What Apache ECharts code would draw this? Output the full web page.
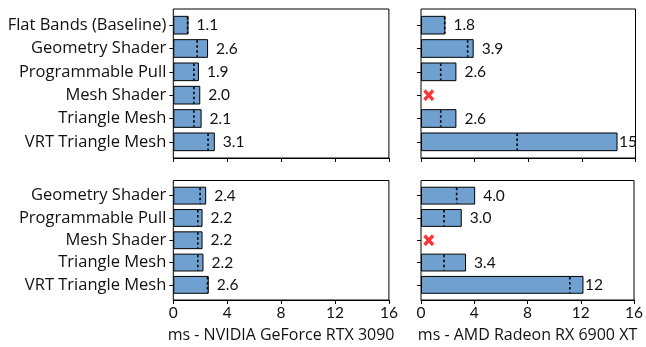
<!DOCTYPE html>
<html>
<head>
<meta charset="utf-8">
<script src="https://cdn.jsdelivr.net/npm/echarts@6/dist/echarts.min.js"></script>
<style>
html,body{margin:0;padding:0;background:#fff;}
#chart{width:646px;height:347px;}
</style>
</head>
<body>
<div id="chart"></div>
<script>
const catsTop = ['Flat Bands (Baseline)', 'Geometry Shader', 'Programmable Pull', 'Mesh Shader', 'Triangle Mesh', 'VRT Triangle Mesh'];
const catsBottom = ['Geometry Shader', 'Programmable Pull', 'Mesh Shader', 'Triangle Mesh', 'VRT Triangle Mesh'];

const nvTop = [1.13, 2.58, 1.9, 2.0, 2.1, 3.08];
const nvTopDot = [1.06, 1.77, 1.53, 1.53, 1.53, 2.58];
const amdTop = [1.82, 3.93, 2.64, null, 2.64, 14.66];
const amdTopDot = [1.77, 3.48, 1.47, null, 1.47, 7.17];

const nvBot = [2.44, 2.17, 2.17, 2.24, 2.63];
const nvBotDot = [1.99, 1.82, 1.82, 1.82, 2.54];
const amdBot = [4.04, 3.04, null, 3.36, 12.12];
const amdBotDot = [2.66, 1.72, null, 1.72, 11.1];

const xTicks = [0, 4, 8, 12, 16];
const xNames = ['ms - NVIDIA GeForce RTX 3090', 'ms - AMD Radeon RX 6900 XT'];

const FONT = 'Open Sans';
const NUMFONT = 'Lato';
const TXT = '#111';
const BAR = '#6fa0cf';

const panels = [
  {cats: catsTop, vals: nvTop, dots: nvTopDot, left: 173.3, width: 215.6, top: 9, height: 149, pad: 4.5, labels: true, bottom: false, name: ''},
  {cats: catsTop, vals: amdTop, dots: amdTopDot, left: 421, width: 214.5, top: 9, height: 149, pad: 4.5, labels: false, bottom: false, name: ''},
  {cats: catsBottom, vals: nvBot, dots: nvBotDot, left: 173.3, width: 215.6, top: 180.5, height: 119.5, pad: 4, labels: true, bottom: true, name: xNames[0]},
  {cats: catsBottom, vals: amdBot, dots: amdBotDot, left: 421, width: 214.5, top: 180.5, height: 119.5, pad: 4, labels: false, bottom: true, name: xNames[1]}
];

const grid = [], xAxis = [], yAxis = [], series = [];
const fmt = v => (v >= 10 ? v.toFixed(0) : v.toFixed(1));
const XPATH = 'path://M0,2.2 L2.2,0 L5,3 L7.8,0 L10,2.2 L7,5 L10,7.8 L7.8,10 L5,7 L2.2,10 L0,7.8 L3,5 Z';

panels.forEach((p, i) => {
  const fi = i * 2, di = i * 2 + 1;
  grid.push({left: p.left, top: p.top, width: p.width, height: p.height, show: true, borderColor: '#000', borderWidth: 1, backgroundColor: 'transparent'});
  grid.push({left: p.left, top: p.top + p.pad, width: p.width, height: p.height - 2 * p.pad, show: false});
  xAxis.push({
    gridIndex: fi, type: 'value', min: xTicks[0], max: xTicks[xTicks.length - 1], interval: 4,
    axisLine: {show: true, lineStyle: {color: '#000', width: 1}},
    axisTick: {show: true, length: 4, lineStyle: {color: '#000', width: 1}},
    axisLabel: {show: p.bottom, margin: 5, color: TXT, fontFamily: NUMFONT, fontSize: 15.5},
    splitLine: {show: false},
    name: p.name, nameLocation: 'middle', nameGap: 27,
    nameTextStyle: {color: TXT, fontFamily: FONT, fontSize: 16}
  });
  xAxis.push({gridIndex: di, type: 'value', min: 0, max: 16, show: false});
  yAxis.push({gridIndex: fi, type: 'value', min: 0, max: 1, show: false});
  yAxis.push({
    gridIndex: di, type: 'category', data: p.cats, inverse: true,
    axisLine: {show: false},
    axisTick: {show: true, alignWithLabel: true, interval: 0, length: 4, lineStyle: {color: '#000', width: 1}},
    axisLabel: {show: p.labels, interval: 0, margin: 7, color: TXT, fontFamily: FONT, fontSize: 16.5},
    splitLine: {show: false}
  });
  series.push({
    type: 'bar', xAxisIndex: di, yAxisIndex: di,
    barCategoryGap: '20%',
    data: p.vals.map(v => v == null ? '-' : (v >= 10 ? {value: v, label: {distance: 1.5}} : v)),
    itemStyle: {color: BAR, borderColor: '#000', borderWidth: 1},
    label: {show: true, position: 'right', distance: 8, color: TXT, fontFamily: NUMFONT, fontSize: 15.5,
            formatter: params => fmt(params.value)},
    silent: true, animation: false
  });
  series.push({
    type: 'custom', xAxisIndex: di, yAxisIndex: di,
    data: p.dots.map((d, k) => d == null ? null : [d, k]).filter(d => d),
    encode: {x: 0, y: 1},
    renderItem: (params, api) => {
      const c = api.coord([api.value(0), api.value(1)]);
      const h = api.size([0, 1])[1] * 0.8;
      return {type: 'line', shape: {x1: c[0], y1: c[1] - h / 2 + 1, x2: c[0], y2: c[1] + h / 2 - 1},
              style: {stroke: '#000', lineWidth: 1.6, lineDash: [2.5, 2.5]}};
    },
    silent: true, animation: false, z: 5
  });
  const missing = p.vals.map((v, k) => v == null ? [0.58, k] : null).filter(d => d);
  if (missing.length) {
    series.push({
      type: 'scatter', xAxisIndex: di, yAxisIndex: di,
      data: missing, symbol: XPATH, symbolSize: [11, 12],
      itemStyle: {color: '#ff0000'}, silent: true, animation: false, z: 6
    });
  }
});

const chart = echarts.init(document.getElementById('chart'), null, {renderer: 'canvas'});
chart.setOption({animation: false, grid, xAxis, yAxis, series});
</script>
</body>
</html>
